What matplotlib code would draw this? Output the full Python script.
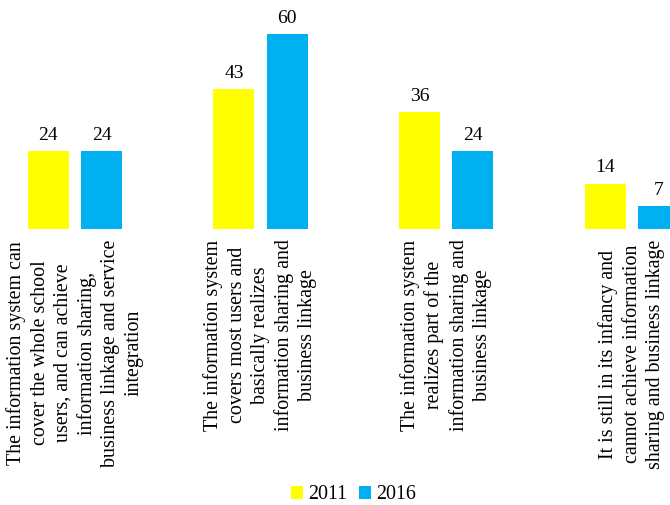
import matplotlib
matplotlib.use("Agg")
import matplotlib.pyplot as plt
import numpy as np

categorias = [
    "The information system can\ncover the whole school\nusers, and can achieve\ninformation sharing,\nbusiness linkage and service\nintegration",
    "The information system\ncovers most users and\nbasically realizes\ninformation sharing and\nbusiness linkage",
    "The information system\nrealizes part of the\ninformation sharing and\nbusiness linkage",
    "It is still in its infancy and\ncannot achieve information\nsharing and business linkage",
]
anos = ["2011", "2016"]
valores_2011 = [24, 43, 36, 14]
valores_2016 = [24, 60, 24, 7]

plt.rcParams["font.family"] = ["Liberation Serif", "DejaVu Serif"]

fig = plt.figure(figsize=(6.7, 5.05), dpi=100)
ax = fig.add_axes([0, 0.5465, 1, 0.4535])

x = np.arange(len(categorias))
larg = 0.221
desl = 0.143
b1 = ax.bar(x - desl, valores_2011, larg, color="#FFFF00", label=anos[0])
b2 = ax.bar(x + desl, valores_2016, larg, color="#00B0F0", label=anos[1])

for barras in (b1, b2):
    for b in barras:
        ax.text(b.get_x() + b.get_width() / 2, b.get_height() + 2.3,
                f"{b.get_height():g}", ha="center", va="bottom", fontsize=14)

ax.set_xlim(-0.404, 3.207)
ax.set_ylim(0, 70.46)
ax.axis("off")

for i, cat in enumerate(categorias):
    ax.text(i, -3.2, cat, rotation=90, ha="center", va="top",
            multialignment="center", fontsize=14.4, linespacing=1.3)

fig.legend(handles=[b1, b2], labels=anos, loc="center", bbox_to_anchor=(0.528, 0.02),
           ncol=2, frameon=False, fontsize=14.4, handlelength=0.6, handleheight=0.6,
           handletextpad=0.25, columnspacing=0.6)

fig.savefig("out.png", dpi=100)
